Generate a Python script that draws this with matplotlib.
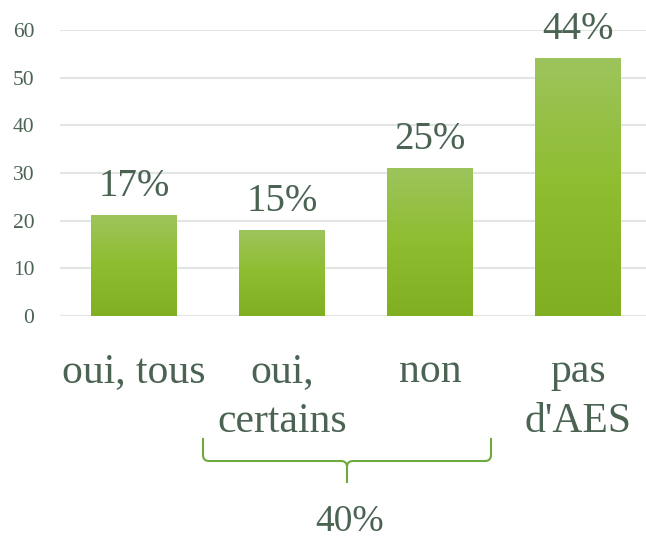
import matplotlib
matplotlib.use("Agg")
import matplotlib.pyplot as plt
import numpy as np
from matplotlib.colors import LinearSegmentedColormap
from matplotlib.path import Path
from matplotlib.patches import PathPatch

categories = ["oui, tous", "oui,\ncertains", "non", "pas\nd'AES"]
values = [21, 18, 31, 54]
pct_labels = ["17%", "15%", "25%", "44%"]
yticks = [0, 10, 20, 30, 40, 50, 60]
group_label = "40%"

TXT = "#4A6352"
FONT = ["Liberation Serif", "DejaVu Serif"]
plt.rcParams['font.family'] = FONT

W, H = 646, 540
fig = plt.figure(figsize=(W / 100, H / 100), dpi=100)
ax = fig.add_axes([60 / W, 1 - 316 / H, (646 - 60) / W, (316 - 30) / H])

x = np.arange(len(categories))
bars = ax.bar(x, values, width=0.575, color="none", zorder=2)

cmap = LinearSegmentedColormap.from_list("g", ["#80AF22", "#8EBD2F", "#9DC45C"])
grad = np.linspace(0, 1, 256).reshape(-1, 1)
for b in bars:
    x0, w, h = b.get_x(), b.get_width(), b.get_height()
    ax.imshow(grad, extent=[x0, x0 + w, 0, h], origin="lower", cmap=cmap,
              aspect="auto", zorder=2)
ax.set_xlim(-0.5, 3.46)
ax.set_ylim(0, 60)

for xi, v, lab in zip(x, values, pct_labels):
    ax.annotate(lab, (xi, v), xytext=(0, 7.5), textcoords="offset points",
                ha="center", va="bottom", fontsize=28, color=TXT,
                annotation_clip=False)

ax.set_yticks(yticks)
ax.set_yticklabels([str(t) for t in yticks], fontsize=15.5, color=TXT)
ax.set_xticks(x)
ax.set_xticklabels(categories, fontsize=30, color=TXT, linespacing=1.38)
ax.tick_params(axis="y", length=0, pad=18.5)
ax.tick_params(axis="x", length=0, pad=26.5)
ax.grid(axis="y", color="#E1E6E3", linewidth=1.5, zorder=0)
ax.set_axisbelow(True)
for s in ax.spines.values():
    s.set_visible(False)

# brace under "oui, certains" and "non"
def fx(px):
    return px / W
def fy(py):
    return 1 - py / H
xl, xr, xm = 203, 491, 347
yt, yh, yb = 438, 461, 483
r = 6
verts = [
    (xl, yt), (xl, yh - r), (xl, yh), (xl + r, yh),
    (xm - r, yh), (xm, yh), (xm, yh + r), (xm, yb),
    (xm, yh + r), (xm, yh), (xm + r, yh),
    (xr - r, yh), (xr, yh), (xr, yh - r), (xr, yt),
]
codes = [Path.MOVETO, Path.LINETO, Path.CURVE3, Path.CURVE3,
         Path.LINETO, Path.CURVE3, Path.CURVE3, Path.LINETO,
         Path.MOVETO, Path.CURVE3, Path.CURVE3,
         Path.LINETO, Path.CURVE3, Path.CURVE3, Path.LINETO]
path = Path([(fx(a), fy(b)) for a, b in verts], codes)
fig.add_artist(PathPatch(path, transform=fig.transFigure, fill=False,
                         edgecolor="#6DAA3E", linewidth=1.5))
fig.text(fx(350), fy(522), group_label, ha="center", va="center",
         fontsize=27, color=TXT)

fig.savefig("out.png", dpi=100)
